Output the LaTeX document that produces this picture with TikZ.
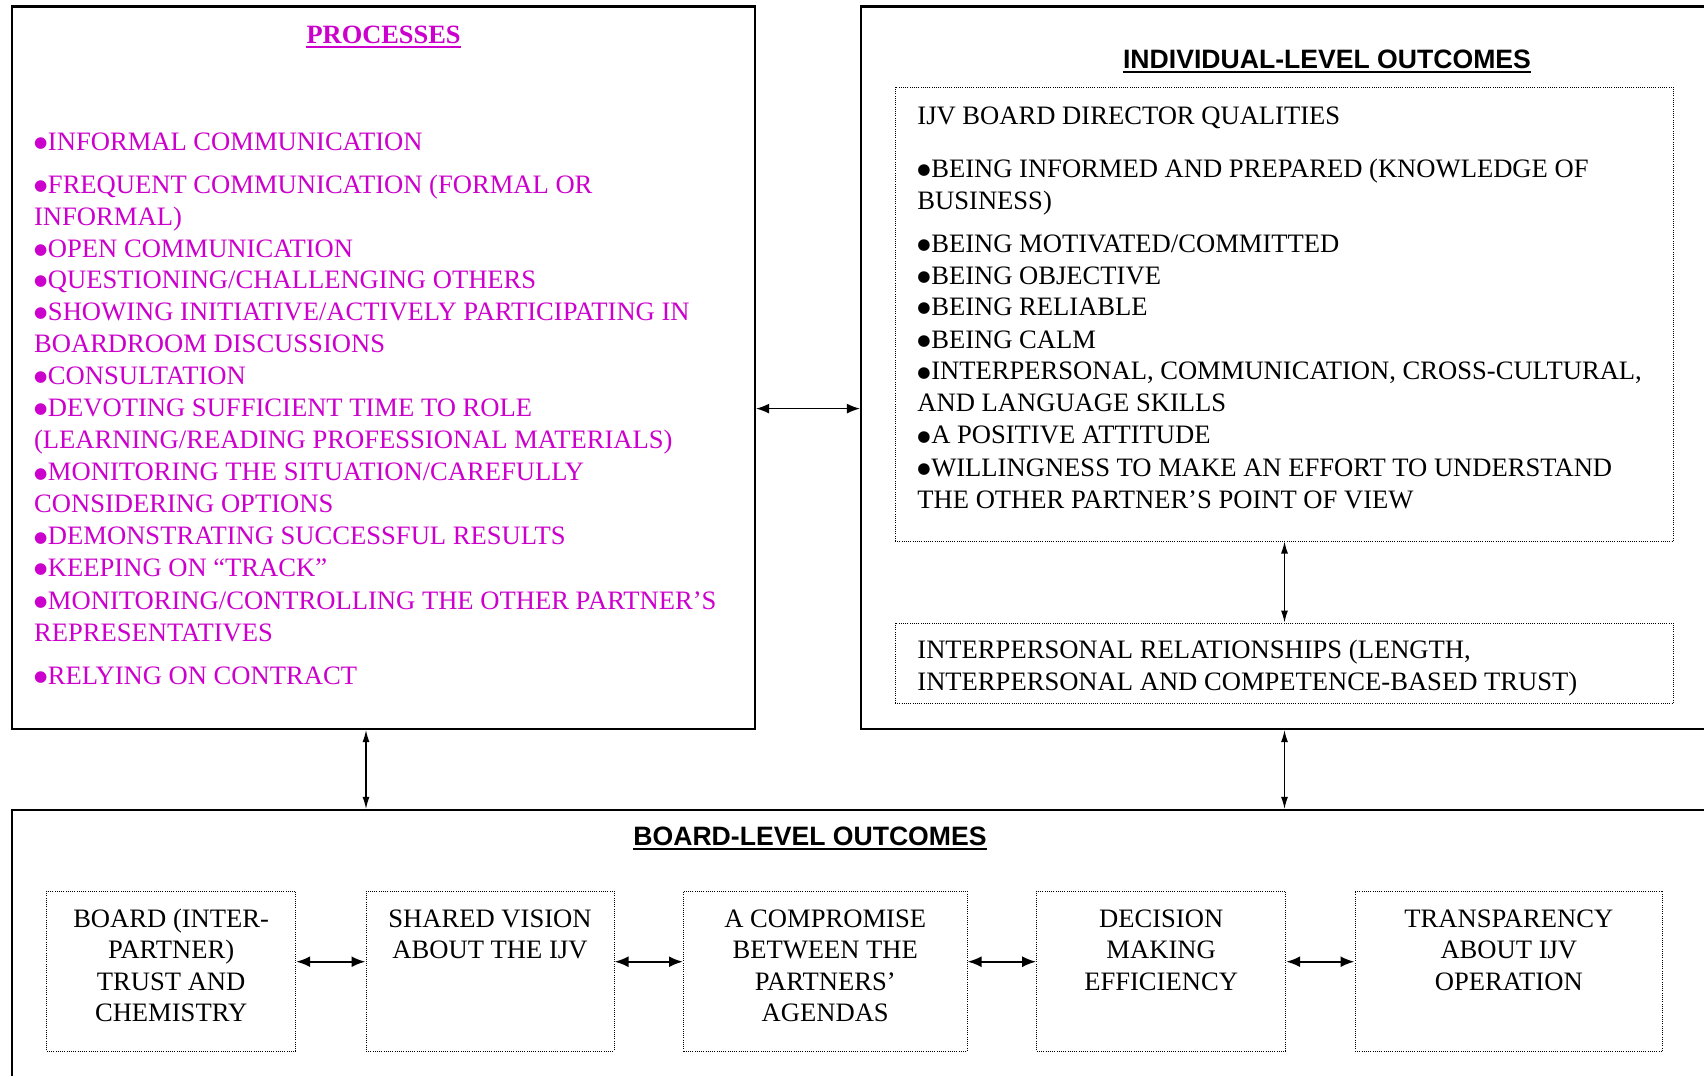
\documentclass[tikz,border=0pt]{standalone}
\usepackage{fontspec}
\setmainfont{Liberation Serif}
\newfontfamily\arialfont{Liberation Sans}
\newfontfamily\dotfont{DejaVu Sans}
\usetikzlibrary{fit,arrows.meta}
\definecolor{procmag}{RGB}{204,0,204}
\newcommand\bul{\raisebox{1.3pt}{\dotfont\fontsize{7.6}{8}\selectfont ●}\kern0.3pt}
\tikzset{
  bigbox/.style={draw, line width=1.1pt, inner sep=0pt},
  dotbox/.style={draw, line width=0.5pt, dash pattern=on 0.5pt off 0.6pt, inner sep=0pt},
  ptext/.style={anchor=base west, inner sep=0pt, align=left, text=procmag, font=\fontsize{13.3}{16}\selectfont},
  btext/.style={anchor=base west, inner sep=0pt, align=left, font=\fontsize{13.3}{16}\selectfont},
  ctext/.style={anchor=base, inner sep=0pt, align=center, font=\fontsize{13.3}{15.75}\selectfont},
  ttl/.style={anchor=base, inner sep=0pt},
  ulline/.style={line width=1pt},
  toplink/.style={{Latex[length=6.5pt,width=5pt]}-{Latex[length=6.5pt,width=5pt]}, line width=0.7pt},
  vlink/.style={{Latex[length=6pt,width=3.5pt]}-{Latex[length=6pt,width=3.5pt]}, line width=0.6pt},
  hlink/.style={{Latex[length=7pt,width=5.5pt]}-{Latex[length=7pt,width=5.5pt]}, line width=1.1pt},
}
\begin{document}
\begin{tikzpicture}[x=0.5pt,y=-0.5pt]
\useasboundingbox (0,0) rectangle (1704,1076);
\clip (0,0) rectangle (1704,1076);
\fill[white] (0,0) rectangle (1704,1076);

% main boxes
\node[bigbox, fit={(12,6.5) (755,729)}] (proc) {};
\node[bigbox, fit={(861,6.5) (1740,729)}] (ind) {};
\node[bigbox, fit={(12,810) (1740,1110)}] (board) {};

% inner dotted boxes
\node[dotbox, fit={(895,87) (1673.5,541)}] (qual) {};
\node[dotbox, fit={(895,623) (1673.5,703)}] (rel) {};

\node[dotbox, fit={(46.7,891) (295.6,1051)}] (b1) {};
\node[dotbox, fit={(366,891) (614,1051)}] (b2) {};
\node[dotbox, fit={(683.5,891) (967,1051)}] (b3) {};
\node[dotbox, fit={(1036.7,891) (1285.6,1051)}] (b4) {};
\node[dotbox, fit={(1355,891) (1662.7,1051)}] (b5) {};

% titles
\node[ttl, text=procmag, font=\fontsize{13.2}{16}\selectfont\bfseries] (tproc) at (383.6,43.3) {PROCESSES};
\draw[ulline, procmag] ([yshift=-2pt]tproc.base west) -- ([yshift=-2pt]tproc.base east);
\node[ttl, font=\fontsize{13.3}{16}\selectfont\arialfont\bfseries] (tind) at (1327,68.3) {INDIVIDUAL-LEVEL OUTCOMES};
\draw[ulline] ([yshift=-1.8pt]tind.base west) -- ([yshift=-1.8pt]tind.base east);
\node[ttl, font=\fontsize{13.3}{16}\selectfont\arialfont\bfseries] (tboard) at (810,845.7) {BOARD-LEVEL OUTCOMES};
\draw[ulline] ([yshift=-1.8pt]tboard.base west) -- ([yshift=-1.8pt]tboard.base east);

% processes list (anchor = baseline of last line)
\node[ptext] (p1) at (33.7,150) {\bul INFORMAL COMMUNICATION};
\node[ptext] (p2) at (33.7,225) {\bul FREQUENT COMMUNICATION (FORMAL OR\\INFORMAL)};
\node[ptext] (p3) at (33.7,257) {\bul OPEN COMMUNICATION};
\node[ptext] (p4) at (33.7,288) {\bul QUESTIONING/CHALLENGING OTHERS};
\node[ptext] (p5) at (33.7,352) {\bul SHOWING INITIATIVE/ACTIVELY PARTICIPATING IN\\BOARDROOM DISCUSSIONS};
\node[ptext] (p6) at (33.7,384) {\bul CONSULTATION};
\node[ptext] (p7) at (33.7,448.5) {\bul DEVOTING SUFFICIENT TIME TO ROLE\\(LEARNING/READING PROFESSIONAL MATERIALS)};
\node[ptext] (p8) at (33.7,512.6) {\bul MONITORING THE SITUATION/CAREFULLY\\CONSIDERING OPTIONS};
\node[ptext] (p9) at (33.7,544.7) {\bul DEMONSTRATING SUCCESSFUL RESULTS};
\node[ptext] (p10) at (33.7,576) {\bul KEEPING ON “TRACK”};
\node[ptext] (p11) at (33.7,641) {\bul MONITORING/CONTROLLING THE OTHER PARTNER’S\\REPRESENTATIVES};
\node[ptext] (p12) at (33.7,684) {\bul RELYING ON CONTRACT};

% individual-level list
\node[btext] (q1) at (917,124) {IJV BOARD DIRECTOR QUALITIES};
\node[btext] (q2) at (917,209.5) {\bul BEING INFORMED AND PREPARED (KNOWLEDGE OF\\BUSINESS)};
\node[btext] (q3) at (917,252.5) {\bul BEING MOTIVATED/COMMITTED};
\node[btext] (q4) at (917,284) {\bul BEING OBJECTIVE};
\node[btext] (q5) at (917,315.5) {\bul BEING RELIABLE};
\node[btext] (q6) at (917,348) {\bul BEING CALM};
\node[btext] (q7) at (917,411.6) {\bul INTERPERSONAL, COMMUNICATION, CROSS-CULTURAL,\\AND LANGUAGE SKILLS};
\node[btext] (q8) at (917,443.7) {\bul A POSITIVE ATTITUDE};
\node[btext] (q9) at (917,508.3) {\bul WILLINGNESS TO MAKE AN EFFORT TO UNDERSTAND\\THE OTHER PARTNER’S POINT OF VIEW};
\node[btext] (r1) at (917,690.8) {INTERPERSONAL RELATIONSHIPS (LENGTH,\\INTERPERSONAL AND COMPETENCE-BASED TRUST)};

% board-level boxes text
\node[ctext] (t1) at (b1.center |- 0,1021.5) {BOARD (INTER-\\PARTNER)\\TRUST AND\\CHEMISTRY};
\node[ctext] (t2) at (b2.center |- 0,958.5) {SHARED VISION\\ABOUT THE IJV};
\node[ctext] (t3) at (b3.center |- 0,1021.5) {A COMPROMISE\\BETWEEN THE\\PARTNERS’\\AGENDAS};
\node[ctext] (t4) at (b4.center |- 0,990) {DECISION\\MAKING\\EFFICIENCY};
\node[ctext] (t5) at (b5.center |- 0,990) {TRANSPARENCY\\ABOUT IJV\\OPERATION};

% connectors
\coordinate (hy) at (0,408.6);
\coordinate (vx) at (366,0);
\coordinate (wx) at (1284.5,0);
\coordinate (by) at (0,961.7);
\draw[toplink] (proc.east |- hy) -- (ind.west |- hy);
\draw[vlink] (proc.south -| vx) -- (board.north -| vx);
\draw[vlink] (ind.south -| wx) -- (board.north -| wx);
\draw[vlink] (qual.south -| wx) -- (rel.north -| wx);
\draw[hlink] (b1.east |- by) -- (b2.west |- by);
\draw[hlink] (b2.east |- by) -- (b3.west |- by);
\draw[hlink] (b3.east |- by) -- (b4.west |- by);
\draw[hlink] (b4.east |- by) -- (b5.west |- by);
\end{tikzpicture}
\end{document}
